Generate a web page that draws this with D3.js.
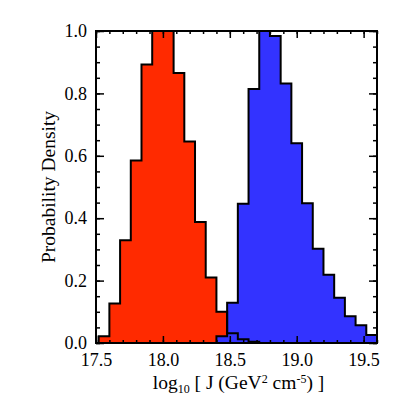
<!DOCTYPE html>
<html>
<head>
<meta charset="utf-8">
<script src="https://cdn.jsdelivr.net/npm/d3@7"></script>
<style>
  body { margin: 0; background: #fff; }
  text { font-family: "Liberation Serif", "DejaVu Serif", serif; fill: #000; }
</style>
</head>
<body>
<svg id="chart" width="405" height="405"></svg>
<script>
// bin edges (log10 J), shared by both histograms
const binEdges = [17.52, 17.60, 17.68, 17.76, 17.84, 17.92, 18.00, 18.08, 18.16, 18.24,
    18.32, 18.40, 18.48, 18.56, 18.64, 18.72, 18.80, 18.88, 18.96, 19.04,
    19.12, 19.20, 19.28, 19.36, 19.44, 19.52, 19.60];

// probability density per bin
const redValues = [0.022, 0.127, 0.329, 0.585, 0.893, 1.0, 1.0, 0.865, 0.646, 0.388,
    0.21, 0.10, 0.031, 0.012, 0.004, 0, 0, 0, 0, 0, 0, 0, 0, 0, 0, 0];
const blueValues = [0, 0, 0, 0, 0, 0, 0, 0, 0, 0,
    0, 0.022, 0.129, 0.446, 0.814, 1.0, 0.984, 0.832, 0.64, 0.448,
    0.302, 0.219, 0.145, 0.086, 0.057, 0.026];

const xTicks = [17.5, 18.0, 18.5, 19.0, 19.5];
const yTicks = [0.0, 0.2, 0.4, 0.6, 0.8, 1.0];

const margin = { top: 31, right: 28, bottom: 62, left: 96 };
const width = 405 - margin.left - margin.right;
const height = 405 - margin.top - margin.bottom;

const svg = d3.select('#chart');
const g = svg.append('g').attr('transform', `translate(${margin.left},${margin.top})`);

const x = d3.scaleLinear().domain([17.5, 19.6]).range([0, width]);
const y = d3.scaleLinear().domain([0, 1.0]).range([height, 0]);

g.append('clipPath').attr('id', 'plot-clip')
    .append('rect').attr('width', width).attr('height', height);

// turn bins into step points, closed at the baseline
const stepPoints = values => {
    const pts = [[binEdges[0], 0]];
    values.forEach((v, i) => pts.push([binEdges[i], v]));
    pts.push([binEdges[binEdges.length - 1], values[values.length - 1]]);
    pts.push([binEdges[binEdges.length - 1], 0]);
    return pts;
};

const area = d3.area()
    .x(d => x(d[0]))
    .y0(y(0))
    .y1(d => y(d[1]))
    .curve(d3.curveStepAfter);

const line = d3.line()
    .x(d => x(d[0]))
    .y(d => y(d[1]))
    .curve(d3.curveStepAfter);

const plot = g.append('g').attr('clip-path', 'url(#plot-clip)');

const series = [
    { values: redValues, color: '#ff2a00' },
    { values: blueValues, color: '#3333ff' },
];

// fills first, outlines on top
series.forEach(s => {
    plot.append('path').datum(stepPoints(s.values))
        .attr('fill', s.color)
        .attr('d', area);
});
series.forEach(s => {
    plot.append('path').datum(stepPoints(s.values))
        .attr('fill', 'none')
        .attr('stroke', '#000')
        .attr('stroke-width', 2)
        .attr('stroke-linejoin', 'miter')
        .attr('d', line);
});

// ----- axes (ticks point inwards)
const styleAxis = sel => {
    sel.select('.domain').remove();
    sel.selectAll('line').attr('stroke', '#000').attr('stroke-width', 1.5);
};

const xMinor = x.ticks(20);
const yMinor = y.ticks(20);

g.append('g').attr('transform', `translate(0,${height})`)
    .call(d3.axisBottom(x).tickValues(xMinor).tickSize(-3).tickFormat(''))
    .call(styleAxis);
g.append('g').attr('transform', `translate(0,${height})`)
    .call(d3.axisBottom(x).tickValues(xTicks).tickSize(-7).tickPadding(10).tickFormat(d3.format('.1f')))
    .call(styleAxis)
    .selectAll('text').attr('font-size', 18);

g.append('g')
    .call(d3.axisTop(x).tickValues(xMinor).tickSize(-3).tickFormat(''))
    .call(styleAxis);
g.append('g')
    .call(d3.axisTop(x).tickValues(xTicks).tickSize(-7).tickFormat(''))
    .call(styleAxis);

g.append('g')
    .call(d3.axisLeft(y).tickValues(yMinor).tickSize(-4).tickFormat(''))
    .call(styleAxis);
g.append('g')
    .call(d3.axisLeft(y).tickValues(yTicks).tickSize(-8).tickPadding(9).tickFormat(d3.format('.1f')))
    .call(styleAxis)
    .selectAll('text').attr('font-size', 18);

g.append('g').attr('transform', `translate(${width},0)`)
    .call(d3.axisRight(y).tickValues(yMinor).tickSize(-4).tickFormat(''))
    .call(styleAxis);
g.append('g').attr('transform', `translate(${width},0)`)
    .call(d3.axisRight(y).tickValues(yTicks).tickSize(-8).tickFormat(''))
    .call(styleAxis);

// frame
g.append('rect')
    .attr('width', width).attr('height', height)
    .attr('fill', 'none').attr('stroke', '#000').attr('stroke-width', 2);

// ----- axis titles
const xTitle = svg.append('text')
    .attr('x', margin.left + width / 2 + 2)
    .attr('y', 389)
    .attr('text-anchor', 'middle')
    .attr('font-size', 19.5);
xTitle.append('tspan').text('log');
xTitle.append('tspan').attr('font-size', 12).attr('dy', 4).text('10');
xTitle.append('tspan').attr('dy', -4).text(' [ J (GeV');
xTitle.append('tspan').attr('font-size', 12).attr('dy', -6).text('2');
xTitle.append('tspan').attr('dy', 6).text(' cm');
xTitle.append('tspan').attr('font-size', 12).attr('dy', -6).text('-5');
xTitle.append('tspan').attr('dy', 6).text(') ]');

svg.append('text')
    .attr('transform', `translate(55,${margin.top + height / 2}) rotate(-90)`)
    .attr('text-anchor', 'middle')
    .attr('font-size', 19.5)
    .text('Probability Density');
</script>
</body>
</html>
